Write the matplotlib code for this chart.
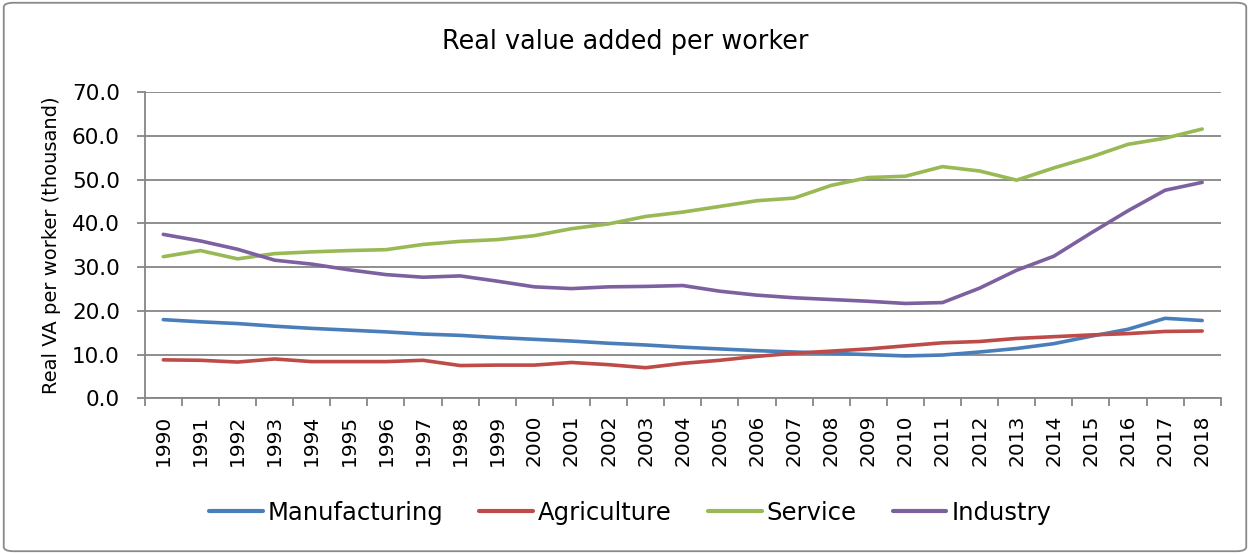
import matplotlib
matplotlib.use("Agg")
import matplotlib.pyplot as plt
from matplotlib.patches import FancyBboxPatch

# ---------------- data ----------------
years = [str(y) for y in range(1990, 2019)]

manufacturing = [18.0, 17.5, 17.1, 16.5, 16.0, 15.6, 15.2, 14.7, 14.4, 13.9,
                 13.5, 13.1, 12.6, 12.2, 11.7, 11.3, 10.9, 10.6, 10.3, 10.0,
                 9.7, 9.9, 10.6, 11.4, 12.5, 14.2, 15.8, 18.3, 17.8]
agriculture = [8.8, 8.7, 8.3, 9.0, 8.4, 8.4, 8.4, 8.7, 7.5, 7.6,
               7.6, 8.2, 7.7, 7.0, 8.0, 8.7, 9.6, 10.3, 10.8, 11.3,
               12.0, 12.7, 13.0, 13.7, 14.1, 14.5, 14.8, 15.3, 15.4]
service = [32.4, 33.8, 31.9, 33.1, 33.5, 33.8, 34.0, 35.2, 35.9, 36.3,
           37.2, 38.8, 39.9, 41.6, 42.6, 43.9, 45.2, 45.8, 48.7, 50.5,
           50.8, 53.0, 52.0, 49.9, 52.7, 55.2, 58.1, 59.5, 61.6]
industry = [37.5, 36.0, 34.1, 31.6, 30.7, 29.4, 28.3, 27.7, 28.0, 26.8,
            25.5, 25.1, 25.5, 25.6, 25.8, 24.5, 23.6, 23.0, 22.6, 22.2,
            21.7, 21.9, 25.2, 29.3, 32.5, 37.8, 42.9, 47.6, 49.4]

series_names = ["Manufacturing", "Agriculture", "Service", "Industry"]
series_colors = ["#4A7EBB", "#BE4B48", "#98B954", "#7D60A0"]
y_ticks = [0, 10, 20, 30, 40, 50, 60, 70]

grid_c = "#868686"

fig = plt.figure(figsize=(12.5, 5.54), dpi=100)
ax = fig.add_axes([0.1158, 0.281, 0.9766 - 0.1158, 0.8334 - 0.281])

x = list(range(len(years)))
for vals, name, col in zip([manufacturing, agriculture, service, industry], series_names, series_colors):
    ax.plot(x, vals, color=col, lw=2.6, label=name, solid_capstyle="round", solid_joinstyle="round")

ax.set_xlim(-0.5, len(years) - 0.5)
ax.set_ylim(0, 70)
ax.set_yticks(y_ticks)
ax.set_yticklabels([f"{v:.1f}" for v in y_ticks], fontsize=15.5)
ax.yaxis.grid(True, color=grid_c, lw=1.3)
ax.set_axisbelow(True)

# category ticks between labels
ax.set_xticks(x)
ax.set_xticklabels(years, rotation=90, fontsize=14.5)
ax.set_xticks([i - 0.5 for i in range(len(years) + 1)], minor=True)
ax.tick_params(axis="x", which="major", length=0, pad=12)
ax.tick_params(axis="x", which="minor", length=6, width=1.3, color=grid_c)
ax.tick_params(axis="y", length=6, width=1.3, color=grid_c, pad=12)

for s in ["top", "right"]:
    ax.spines[s].set_visible(False)
for s in ["left", "bottom"]:
    ax.spines[s].set_color(grid_c)
    ax.spines[s].set_linewidth(1.3)

ax.set_ylabel("Real VA per worker (thousand)", fontsize=14, labelpad=8)

fig.text(0.5, 0.924, "Real value added per worker", ha="center", va="center", fontsize=18.4)

leg = fig.legend(loc="center", bbox_to_anchor=(0.504, 0.0746), ncol=4, frameon=False,
                 fontsize=17.5, handlelength=2.22, handletextpad=0.2, columnspacing=1.48)
for h in leg.get_lines():
    h.set_linewidth(3)

# outer chart border
border = FancyBboxPatch((0.003, 0.005), 0.994, 0.99, boxstyle="round,pad=0,rounding_size=0.008",
                        transform=fig.transFigure, fill=False, edgecolor="#898989", lw=1.3)
fig.patches.append(border)

fig.savefig("out.png", dpi=100)
